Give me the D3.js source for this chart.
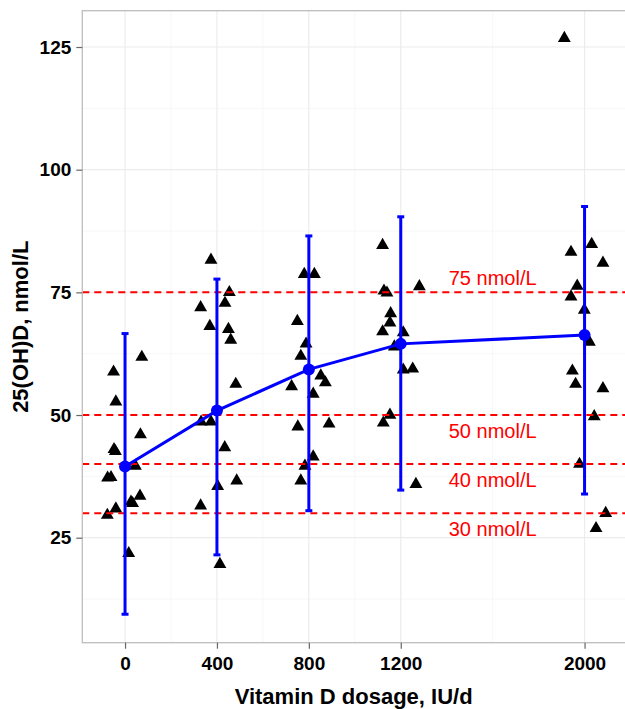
<!DOCTYPE html>
<html>
<head>
<meta charset="utf-8">
<script src="https://cdn.jsdelivr.net/npm/d3@7"></script>
<style>
  body { margin: 0; background: #fff; }
  svg { display: block; }
  .axis text { font-family: "Liberation Sans", Arial, sans-serif; font-weight: bold; font-size: 19px; fill: #000; }
  .axis line { stroke: #666; stroke-width: 1.2; }
  .axis path { display: none; }
</style>
</head>
<body>
<script>
// group summaries
const doses = [0, 400, 800, 1200, 2000];
const means = [39.5, 50.9, 59.3, 64.5, 66.3];
const lower = [9.4, 21.5, 30.5, 34.7, 33.9];
const upper = [66.6, 77.7, 86.5, 90.4, 92.5];

// individual subjects (dose jittered as plotted)
const subjDose = [
  73, -50, -40, 67, -48, -42, 45, -76, -61, 65, 26, 33, -40, -77, 16,
  374, 454, 329, 435, 369, 450, 460, 482, 331, 374, 434, 486, 403, 329, 413,
  780, 824, 750, 788, 765, 852, 872, 725, 819, 752, 888, 819, 783, 765,
  1121, 1127, 1140, 1281, 1156, 1153, 1121, 1211, 1172, 1211, 1252, 1153, 1124, 1266,
  2031, 1941, 2080, 1968, 1941, 1999, 2021, 1947, 1961, 2080, 2042, 1978, 2092, 2050, 1912
];
const subjLevel = [
  61.8, 58.8, 52.7, 46.0, 43.0, 42.6, 39.6, 37.2, 37.3, 33.5, 32.3, 32.0, 30.9, 29.6, 21.8,
  81.6, 75.0, 71.9, 72.8, 68.1, 67.5, 65.3, 56.3, 48.6, 48.6, 43.4, 36.6, 35.5, 31.5, 19.6,
  78.7, 78.7, 69.1, 64.5, 62.0, 58.0, 56.6, 55.8, 54.3, 47.6, 48.2, 41.5, 39.6, 36.6,
  84.6, 75.3, 74.9, 76.2, 70.7, 68.8, 67.0, 66.8, 63.9, 59.2, 59.4, 50.0, 48.4, 35.9,
  84.8, 83.2, 81.0, 76.3, 74.1, 71.4, 64.9, 59.0, 56.3, 55.4, 49.7, 40.0, 30.0, 26.9, 126.8
];

const cutoffs = [75, 50, 40, 30];
const cutoffLabels = ["75 nmol/L", "50 nmol/L", "40 nmol/L", "30 nmol/L"];

const xTicks = [0, 400, 800, 1200, 2000];
const xMinor = [200, 600, 1000, 1600];
const yTicks = [25, 50, 75, 100, 125];
const yMinor = [12.5, 37.5, 62.5, 87.5, 112.5];

const width = 625;
const height = 709;
const pLeft = 82.3, pRight = 625, pTop = 10.7, pBottom = 642.7;

const svg = d3.select('body')
    .append('svg')
    .attr('width', width)
    .attr('height', height);

const x = d3.scaleLinear()
    .domain([-186, 2176])
    .range([pLeft, pRight]);

const y = d3.scaleLinear()
    .domain([3.6, 132.4])
    .range([pBottom, pTop]);

// grid
const grid = svg.append('g');
grid.selectAll('.ymin').data(yMinor).enter().append('line')
    .attr('x1', pLeft).attr('x2', pRight)
    .attr('y1', d => y(d)).attr('y2', d => y(d))
    .attr('stroke', '#f7f7f7').attr('stroke-width', 1);
grid.selectAll('.xmin').data(xMinor).enter().append('line')
    .attr('y1', pTop).attr('y2', pBottom)
    .attr('x1', d => x(d)).attr('x2', d => x(d))
    .attr('stroke', '#f7f7f7').attr('stroke-width', 1);
grid.selectAll('.ymaj').data(yTicks).enter().append('line')
    .attr('x1', pLeft).attr('x2', pRight)
    .attr('y1', d => y(d)).attr('y2', d => y(d))
    .attr('stroke', '#ececec').attr('stroke-width', 1.2);
grid.selectAll('.xmaj').data(xTicks).enter().append('line')
    .attr('y1', pTop).attr('y2', pBottom)
    .attr('x1', d => x(d)).attr('x2', d => x(d))
    .attr('stroke', '#ececec').attr('stroke-width', 1.2);

// subjects
svg.append('g').selectAll('path')
    .data(subjDose.map((d, i) => [d, subjLevel[i]]))
    .enter()
    .append('path')
    .attr('d', d3.symbol(d3.symbolTriangle, 72))
    .attr('transform', d => `translate(${x(d[0])},${y(d[1])})`)
    .attr('fill', '#000');

// cutoff lines
svg.append('g').selectAll('line')
    .data(cutoffs)
    .enter()
    .append('line')
    .attr('x1', pLeft).attr('x2', pRight)
    .attr('y1', d => y(d)).attr('y2', d => y(d))
    .attr('stroke', '#ff0000')
    .attr('stroke-width', 2)
    .attr('stroke-dasharray', '7,5');

svg.append('g').selectAll('text')
    .data(cutoffs)
    .enter()
    .append('text')
    .text((d, i) => cutoffLabels[i])
    .attr('x', x(1600))
    .attr('y', d => d === 75 ? y(d) - 7 : y(d) + 23)
    .attr('text-anchor', 'middle')
    .attr('font-family', '"Liberation Sans", Arial, sans-serif')
    .attr('font-size', 20)
    .attr('fill', '#ff0000');

// error bars
const summary = doses.map((d, i) => ({ dose: d, mean: means[i], lo: lower[i], hi: upper[i] }));
const eb = svg.append('g').attr('stroke', '#0000ff').attr('stroke-width', 3);
eb.selectAll('.v').data(summary).enter().append('line')
    .attr('x1', d => x(d.dose)).attr('x2', d => x(d.dose))
    .attr('y1', d => y(d.lo)).attr('y2', d => y(d.hi));
eb.selectAll('.t').data(summary).enter().append('line')
    .attr('x1', d => x(d.dose) - 3.5).attr('x2', d => x(d.dose) + 3.5)
    .attr('y1', d => y(d.hi)).attr('y2', d => y(d.hi));
eb.selectAll('.b').data(summary).enter().append('line')
    .attr('x1', d => x(d.dose) - 3.5).attr('x2', d => x(d.dose) + 3.5)
    .attr('y1', d => y(d.lo)).attr('y2', d => y(d.lo));

svg.append('path')
    .datum(summary)
    .attr('fill', 'none')
    .attr('stroke', '#0000ff')
    .attr('stroke-width', 3)
    .attr('d', d3.line().x(d => x(d.dose)).y(d => y(d.mean)));

svg.append('g').selectAll('circle')
    .data(summary)
    .enter()
    .append('circle')
    .attr('cx', d => x(d.dose))
    .attr('cy', d => y(d.mean))
    .attr('r', 6)
    .attr('fill', '#0000ff');

// panel border
svg.append('rect')
    .attr('x', pLeft).attr('y', pTop)
    .attr('width', pRight - pLeft + 10).attr('height', pBottom - pTop)
    .attr('fill', 'none')
    .attr('stroke', '#bdbdbd')
    .attr('stroke-width', 1.3);

// axes
svg.append('g')
    .attr('class', 'axis')
    .attr('transform', `translate(0, ${pBottom})`)
    .call(d3.axisBottom(x).tickValues(xTicks).tickFormat(d3.format('d')).tickSize(6).tickPadding(8));

svg.append('g')
    .attr('class', 'axis')
    .attr('transform', `translate(${pLeft}, 0)`)
    .call(d3.axisLeft(y).tickValues(yTicks).tickFormat(d3.format('d')).tickSize(6).tickPadding(5));

svg.append('text')
    .text('Vitamin D dosage, IU/d')
    .attr('x', (pLeft + pRight) / 2)
    .attr('y', 704)
    .attr('text-anchor', 'middle')
    .attr('font-family', '"Liberation Sans", Arial, sans-serif')
    .attr('font-weight', 'bold')
    .attr('font-size', 22);

svg.append('text')
    .text('25(OH)D, nmol/L')
    .attr('transform', `translate(28, ${(pTop + pBottom) / 2}) rotate(-90)`)
    .attr('text-anchor', 'middle')
    .attr('font-family', '"Liberation Sans", Arial, sans-serif')
    .attr('font-weight', 'bold')
    .attr('font-size', 22);
</script>
</body>
</html>
